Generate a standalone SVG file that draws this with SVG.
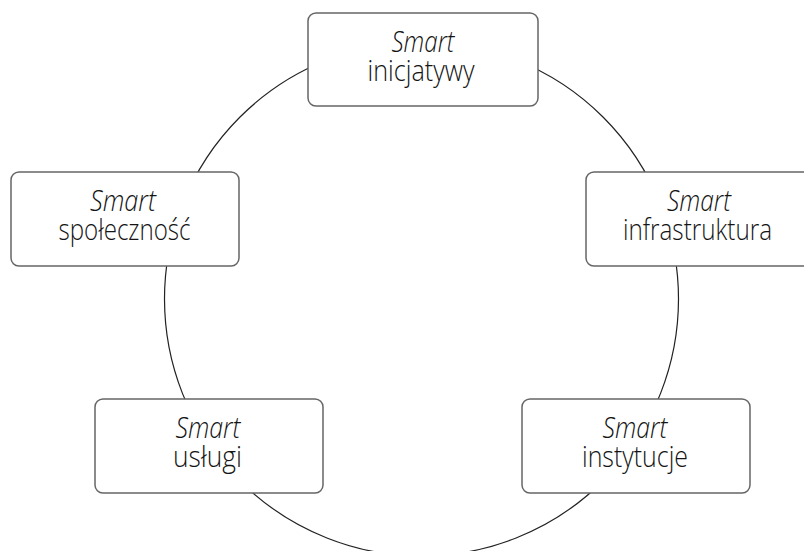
<svg xmlns="http://www.w3.org/2000/svg" width="804" height="551" viewBox="0 0 804 551">
<style>
.box{fill:#fff;stroke:#666;stroke-width:1.5}
.ring{fill:none;stroke:#222;stroke-width:1.2}
text{font-family:"Open Sans","Liberation Sans",sans-serif;font-size:29px;font-weight:300;fill:#141414;text-anchor:middle}
.it{font-style:italic}
</style>
<rect width="804" height="551" fill="#fff"/>
<g id="connectors">
<circle class="ring" cx="421.5" cy="299" r="257"/>
</g>
<g id="n-inicjatywy">
<rect class="box" x="308" y="13" width="230" height="93" rx="8"/>
<text class="it" x="423" y="52" textLength="63" lengthAdjust="spacingAndGlyphs">Smart</text>
<text x="421" y="81" textLength="107" lengthAdjust="spacingAndGlyphs">inicjatywy</text>
</g>
<g id="n-spolecznosc">
<rect class="box" x="11" y="172" width="228" height="94" rx="8"/>
<text class="it" x="123" y="211" textLength="66" lengthAdjust="spacingAndGlyphs">Smart</text>
<text x="124.5" y="240" textLength="132" lengthAdjust="spacingAndGlyphs">społeczność</text>
</g>
<g id="n-infrastruktura">
<rect class="box" x="586" y="172" width="228" height="94" rx="8"/>
<text class="it" x="699" y="211" textLength="64" lengthAdjust="spacingAndGlyphs">Smart</text>
<text x="697.5" y="240" textLength="149" lengthAdjust="spacingAndGlyphs">infrastruktura</text>
</g>
<g id="n-uslugi">
<rect class="box" x="95" y="399" width="228" height="94" rx="8"/>
<text class="it" x="208" y="438" textLength="65" lengthAdjust="spacingAndGlyphs">Smart</text>
<text x="207.5" y="467" textLength="69" lengthAdjust="spacingAndGlyphs">usługi</text>
</g>
<g id="n-instytucje">
<rect class="box" x="522" y="399" width="228" height="94" rx="8"/>
<text class="it" x="635" y="438" textLength="65" lengthAdjust="spacingAndGlyphs">Smart</text>
<text x="635" y="467" textLength="106" lengthAdjust="spacingAndGlyphs">instytucje</text>
</g>
</svg>
